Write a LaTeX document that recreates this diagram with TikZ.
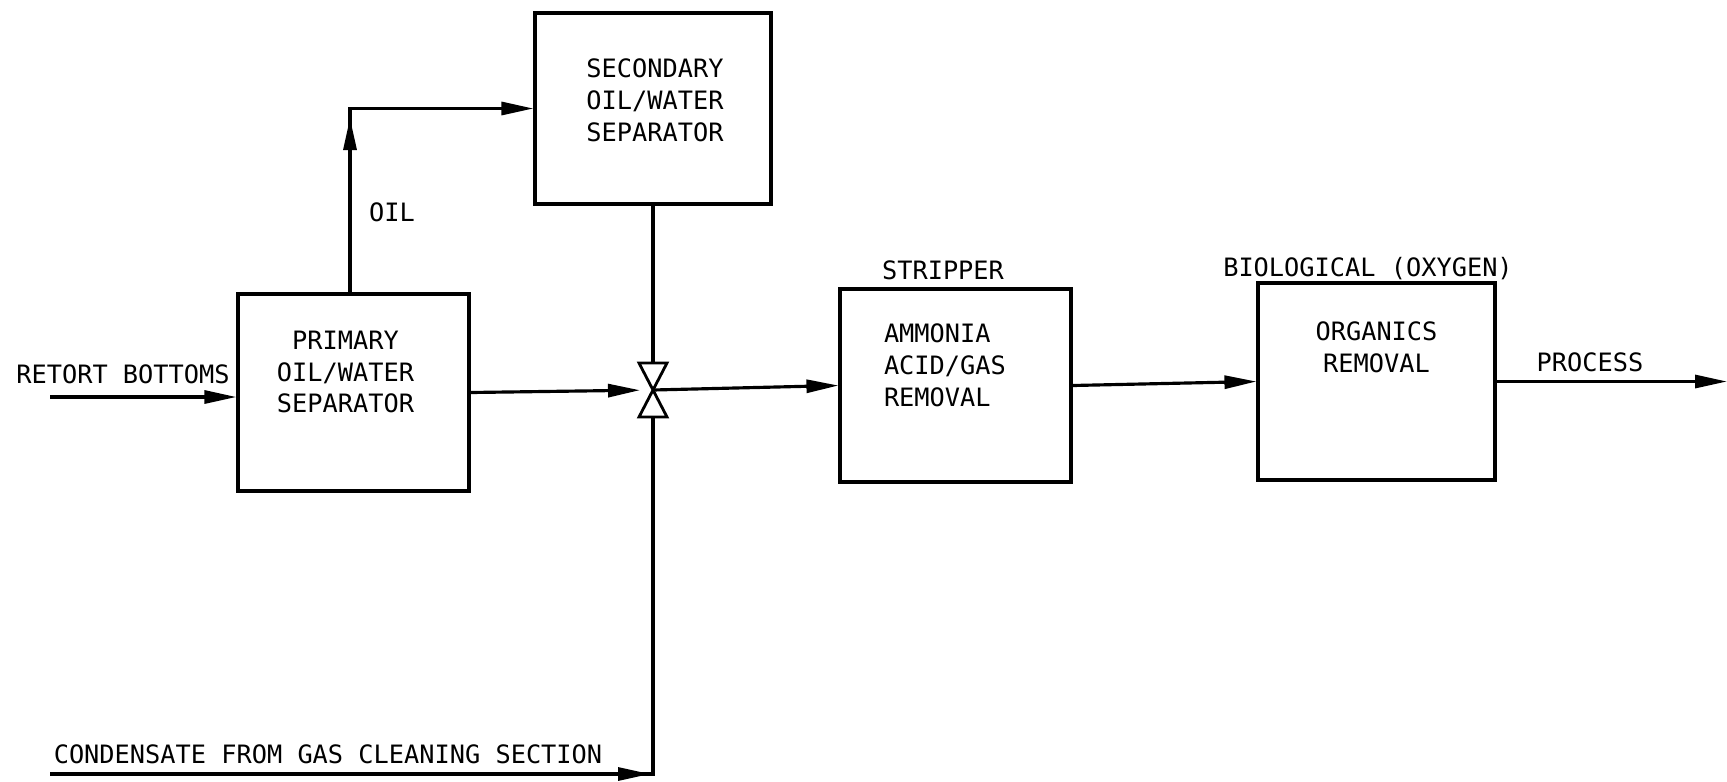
\documentclass[tikz,border=0pt]{standalone}
\usepackage{fontspec}
\setmonofont{DejaVu Sans Mono}
\usetikzlibrary{arrows.meta,positioning}

\begin{document}
\begin{tikzpicture}[x=0.1mm,y=-0.1mm,>={Triangle[length=3.2mm,width=1.3mm]},
    line width=0.9pt,font=\ttfamily\fontsize{7.2}{9}\selectfont,
    unitbox/.style={draw,inner sep=0pt},
    txt/.style={inner sep=0pt,align=center}]
  \useasboundingbox (0,0) rectangle (1727,781);
  % process units
  \node[unitbox,minimum width=23.1mm,minimum height=19.7mm] (prim)  at (353.5,392.5) {};
  \node[unitbox,minimum width=23.6mm,minimum height=19.1mm] (sec)   at (653,108.5) {};
  \node[unitbox,minimum width=23.1mm,minimum height=19.3mm] (strip) at (955.5,385.5) {};
  \node[unitbox,minimum width=23.7mm,minimum height=19.7mm] (bio)   at (1376.5,381.5) {};
  \node[txt,below=3.7mm of prim.north,xshift=-0.8mm] (primtxt) {PRIMARY\\OIL/WATER\\SEPARATOR};
  \node[txt,below=4.6mm of sec.north,xshift=0.2mm] (sectxt) {SECONDARY\\OIL/WATER\\SEPARATOR};
  \node[txt,align=left,below right=3.5mm and 4.4mm of strip.north west] (striptxt) {AMMONIA\\ACID/GAS\\REMOVAL};
  \node[txt,below=3.9mm of bio.north] (biotxt) {ORGANICS\\REMOVAL};
  % valve
  \coordinate (valve) at (653,390);
  \draw[line width=0.8pt] (valve) -- ++(-14,-27) -- ++(28,0) -- cycle
                          (valve) -- ++(-14,27) -- ++(28,0) -- cycle;
  % stream end points
  \coordinate (retin)    at (50,397);
  \coordinate (condin)   at (50,774);
  \coordinate (condturn) at (653,774);
  \coordinate (oilturn)  at (350,108);
  \coordinate (outend)   at (1727,0);
  % streams
  \draw[->] (retin) -- (retin -| prim.west);
  \draw[->] (prim.north -| oilturn) |- (sec.west);
  \draw[->] (prim.north -| oilturn) -- ([yshift=-1mm]oilturn);
  \draw (sec.south) -- ([yshift=2.7mm]valve);
  \draw[->,shorten >=1.3mm] (prim.east) -- (valve);
  \draw (condin) -| ([yshift=-2.7mm]valve);
  \draw[->] (condin) -- ([xshift=-0.3mm]condturn);
  \draw[->] (valve) -- (strip.west);
  \draw[->] (strip.east) -- (bio.west);
  \draw[->] (bio.east) -- (bio.east -| outend);
  % stream labels
  \node[txt,anchor=base] (retlbl)   at (123,383) {RETORT BOTTOMS};
  \node[txt,anchor=base] (oillbl)   at (392,221) {OIL};
  \node[txt,anchor=base] (condlbl)  at (328,763) {CONDENSATE FROM GAS CLEANING SECTION};
  \node[txt,anchor=base] (striplbl) at (943,279) {STRIPPER};
  \node[txt,anchor=base] (biolbl)   at (1368,276) {BIOLOGICAL (OXYGEN)};
  \node[txt,anchor=base] (outlbl)   at (1590,371) {PROCESS};
\end{tikzpicture}
\end{document}
